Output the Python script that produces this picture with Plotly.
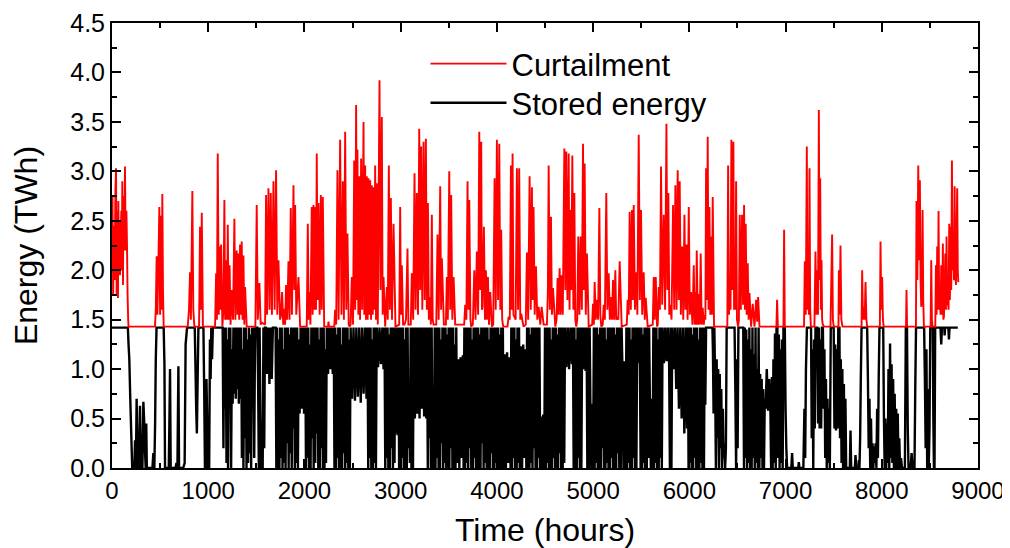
import plotly.graph_objects as go

# ---------------- data ----------------
# Curtailment (TWh) as (hour, value) pairs; its floor equals the storage capacity
curtailment = [
    (0,2.10),(5,2.75),(12,1.75),(20,2.45),(28,1.90),(35,2.80),(42,3.03),(48,1.75),(55,2.60),(62,1.72),
    (66,2.70),(72,2.10),(78,2.50),(83,1.95),(90,2.30),(97,2.60),(102,2.00),(107,2.90),(114,1.85),(120,2.75),
    (127,2.20),(135,3.05),(142,2.20),(150,2.60),(156,2.25),(162,1.75),(168,1.50),(172,1.43),
    (447,1.43),(455,1.60),(464,2.14),(472,1.55),(480,1.95),(492,2.64),(500,1.55),(510,2.55),(516,1.60),(523,2.77),(530,1.80),(537,1.43),
    (787,1.43),(800,1.60),(811,1.98),(820,1.50),(835,2.80),(845,1.60),(856,1.43),(905,1.43),(915,2.44),(924,1.60),(933,2.58),(945,1.43),
    (1071,1.43),(1082,1.97),(1090,1.50),(1099,3.18),(1110,1.55),(1123,2.24),(1128,1.60),(1134,2.26),(1147,1.43),(1158,1.60),
    (1168,2.71),(1176,1.50),(1186,2.10),(1196,1.50),(1203,2.46),(1212,1.50),(1222,2.05),(1232,1.45),(1244,1.80),(1258,1.50),
    (1272,2.52),(1282,1.50),(1296,2.20),(1305,1.55),(1314,2.17),(1322,1.50),(1331,2.26),(1340,1.55),(1348,2.29),(1357,1.50),
    (1366,2.15),(1375,1.45),(1383,1.83),(1400,1.43),
    (1490,1.43),(1504,2.66),(1515,1.50),(1532,1.87),(1545,1.45),(1556,1.47),(1591,1.45),(1601,2.76),(1612,1.55),(1626,2.83),
    (1638,1.60),(1650,2.78),(1662,1.55),(1678,2.90),(1690,1.60),(1705,3.01),(1718,1.55),(1730,2.10),(1747,1.50),(1758,1.55),
    (1768,1.78),(1779,1.45),(1789,1.61),(1799,1.45),(1809,1.85),(1820,1.50),(1834,2.09),(1845,1.50),(1858,2.63),(1870,1.55),
    (1886,2.86),(1895,1.80),(1903,2.66),(1915,1.55),(1938,1.93),(1955,1.43),
    (2024,1.43),(2035,2.47),(2044,1.50),(2052,1.78),(2062,1.45),(2076,2.64),(2085,1.55),(2094,2.66),(2102,1.60),(2111,2.64),
    (2120,1.60),(2128,3.18),(2137,1.70),(2146,2.68),(2158,1.55),(2170,2.76),(2180,1.60),(2191,2.74),(2205,1.43),(2245,1.43),
    (2250,1.48),(2255,1.43),
    (2310,1.43),(2319,1.60),(2330,1.45),(2343,3.01),(2355,1.50),(2371,3.32),(2385,1.55),(2399,2.90),(2410,1.50),(2423,3.40),
    (2435,1.60),(2447,2.37),(2460,1.45),(2468,1.43),
    (2480,1.45),(2492,1.93),(2505,1.45),(2517,3.11),(2527,1.60),(2537,3.67),(2545,1.70),(2551,3.22),(2560,1.55),(2569,2.95),
    (2578,1.50),(2589,3.13),(2600,1.60),(2614,3.50),(2622,1.55),(2631,3.06),(2640,1.50),(2648,2.95),(2657,1.50),(2666,2.93),
    (2675,1.55),(2683,2.91),(2692,1.50),(2700,2.86),(2710,1.55),(2718,2.84),(2727,1.60),(2735,3.06),(2744,1.50),(2752,2.88),
    (2762,1.45),(2780,3.92),(2790,1.80),(2804,3.55),(2813,1.55),(2822,1.93),(2839,1.43),(2856,1.83),(2866,1.50),(2877,3.06),
    (2888,1.60),(2898,2.73),(2910,1.50),(2926,2.47),(2946,1.43),
    (2985,1.45),(2995,2.64),(3003,1.55),(3012,2.05),(3025,1.45),(3040,1.45),(3055,1.50),(3071,2.22),(3080,1.45),(3089,1.45),
    (3105,1.45),(3116,1.97),(3130,1.50),(3144,2.98),(3155,1.60),(3168,2.78),(3180,1.55),(3193,3.43),(3203,1.80),(3213,3.25),
    (3225,1.60),(3238,3.30),(3250,1.70),(3262,3.33),(3272,1.60),(3283,2.68),(3293,1.50),(3304,1.73),(3314,1.45),(3324,2.56),
    (3333,1.50),(3342,1.45),
    (3370,1.45),(3383,2.36),(3395,1.50),(3411,2.85),(3420,1.60),(3428,2.12),(3449,1.45),
    (3470,1.45),(3480,1.93),(3490,1.50),(3505,3.00),(3515,1.60),(3525,2.76),(3537,1.50),(3550,1.93),(3567,1.45),
    (3660,1.45),(3671,1.65),(3683,1.50),(3695,2.90),(3705,1.60),(3713,2.71),(3725,1.50),(3733,1.43),
    (3750,1.45),(3765,2.00),(3778,1.50),(3792,2.19),(3805,1.55),(3817,3.40),(3827,1.80),(3837,3.30),(3845,1.60),(3851,1.63),
    (3865,2.44),(3876,1.50),(3886,2.00),(3896,1.50),(3907,1.93),(3918,1.45),(3931,1.78),(3948,1.43),
    (3962,1.45),(3976,2.93),(3988,1.60),(4000,3.32),(4012,1.70),(4025,3.28),(4035,1.60),(4045,2.41),(4055,1.50),(4066,1.43),
    (4110,1.43),(4122,1.53),(4134,1.50),(4146,3.06),(4155,1.60),(4163,3.18),(4172,1.55),(4181,1.53),(4195,1.50),(4208,3.03),
    (4220,1.60),(4232,3.03),(4243,1.50),(4253,1.56),(4277,1.43),
    (4300,1.45),(4312,2.18),(4325,1.50),(4340,2.95),(4352,1.60),(4364,2.84),(4372,1.70),(4381,2.64),(4393,1.55),(4406,2.04),
    (4420,1.50),(4434,1.63),(4451,1.45),(4465,1.63),(4486,1.45),
    (4520,1.45),(4530,1.80),(4538,3.06),(4550,1.60),(4562,2.54),(4572,1.55),(4583,1.82),(4607,1.43),
    (4620,1.50),(4631,1.92),(4640,1.55),(4652,2.02),(4662,1.55),(4673,1.95),(4685,1.55),(4701,3.23),(4711,1.80),(4721,3.20),
    (4733,1.70),(4746,3.18),(4755,1.60),(4763,2.61),(4773,1.80),(4784,3.16),(4795,1.60),(4805,2.78),(4815,1.50),(4825,1.43),
    (4835,1.50),(4846,2.34),(4858,1.55),(4871,2.34),(4883,1.60),(4895,3.28),(4904,1.80),(4912,3.08),(4924,1.55),(4936,2.17),
    (4954,1.43),
    (4990,1.45),(4999,1.66),(5008,1.45),(5016,1.88),(5028,1.50),(5040,1.70),(5052,1.50),(5065,2.63),(5075,1.55),(5085,1.43),
    (5100,1.45),(5110,1.65),(5122,1.50),(5137,2.78),(5148,1.60),(5162,1.97),(5174,1.50),(5186,1.73),(5196,1.50),(5207,1.90),
    (5218,1.50),(5231,2.00),(5240,1.50),(5248,1.53),(5262,1.50),(5276,2.09),(5297,1.43),
    (5350,1.45),(5359,1.70),(5370,1.55),(5380,2.59),(5392,1.60),(5404,2.61),(5413,1.70),(5422,2.66),(5435,1.60),(5449,1.98),
    (5460,1.55),(5474,3.37),(5486,1.70),(5498,2.61),(5510,1.55),(5526,1.98),(5537,1.50),(5547,1.72),(5567,1.43),
    (5620,1.45),(5630,1.93),(5640,1.50),(5651,1.93),(5664,1.43),
    (5672,1.45),(5682,1.83),(5694,1.60),(5706,3.05),(5718,1.65),(5734,2.56),(5748,1.60),(5762,3.48),(5772,1.80),(5782,2.78),
    (5792,1.55),(5803,1.65),(5815,1.50),(5831,2.66),(5843,1.60),(5855,2.86),(5867,1.60),(5879,3.01),(5890,1.70),(5900,2.90),
    (5912,1.55),(5925,2.24),(5937,1.50),(5949,2.56),(5960,1.60),(5970,2.26),(5982,1.50),(5994,2.64),
    (6005,1.55),(6018,1.78),(6032,1.45),(6046,2.05),(6055,1.45),(6063,1.78),(6070,1.45),(6077,2.20),(6088,1.45),(6098,1.76),
    (6108,1.45),(6118,2.17),(6128,1.45),(6139,1.62),(6150,1.45),(6160,1.55),(6167,1.50),(6174,3.03),(6182,1.70),(6191,3.35),
    (6200,1.60),(6209,2.64),(6218,1.55),(6226,2.34),(6235,1.55),(6243,2.74),(6257,1.43),
    (6395,1.43),(6403,3.06),(6412,1.55),(6420,1.80),(6428,1.60),(6437,3.32),(6448,1.80),(6458,3.30),(6465,1.60),(6472,1.78),
    (6479,1.60),(6486,2.90),(6495,1.50),(6507,1.43),
    (6515,1.50),(6524,2.56),(6535,1.60),(6548,2.56),(6558,1.65),(6569,2.66),(6578,1.60),(6586,2.47),(6596,1.55),(6607,2.07),
    (6616,1.50),(6625,1.77),(6642,1.43),(6659,1.66),(6677,1.43),(6694,1.70),(6705,1.48),(6715,1.73),(6729,1.43),
    (6905,1.43),(6912,1.70),(6920,1.43),
    (6978,1.43),(6985,2.41),(6992,1.43),
    (7192,1.43),(7200,2.09),(7210,1.55),(7221,3.25),(7228,1.60),(7235,2.07),(7242,1.55),(7249,3.03),(7256,1.60),(7263,1.43),
    (7300,1.43),(7311,2.19),(7320,1.55),(7329,2.00),(7337,1.55),(7346,3.62),(7353,1.90),(7360,2.93),(7367,1.60),(7374,2.10),
    (7380,1.50),(7387,1.45),(7400,1.43),
    (7467,1.43),(7474,1.82),(7484,2.36),(7492,1.50),(7501,1.43),
    (7550,1.43),(7554,2.00),(7562,1.55),(7571,2.25),(7580,1.50),(7592,1.43),
    (7790,1.43),(7796,2.00),(7805,1.50),(7814,1.63),(7822,1.50),(7831,1.88),(7840,1.50),(7848,1.43),
    (7980,1.43),(7987,2.29),(7995,1.60),(8004,1.93),(8012,1.50),(8020,1.43),
    (8252,1.43),(8257,1.80),(8263,1.43),
    (8355,1.43),(8361,2.70),(8370,1.90),(8379,3.06),(8387,2.10),(8396,2.91),(8403,1.90),(8410,1.63),(8417,1.70),(8424,2.61),
    (8431,1.70),(8438,1.43),
    (8508,1.43),(8514,2.10),(8521,1.50),(8528,1.43),
    (8556,1.43),(8563,2.05),(8570,1.55),(8576,2.24),(8583,1.60),(8590,2.60),(8597,1.60),(8604,1.70),(8611,1.55),(8618,2.05),
    (8626,1.55),(8635,2.27),(8640,1.50),(8646,1.53),(8653,1.80),(8660,2.17),(8667,1.60),(8673,2.34),(8680,1.65),(8687,1.70),
    (8694,1.60),(8701,2.47),(8708,1.70),(8715,2.44),(8722,1.80),(8729,3.11),(8736,2.00),(8743,2.29),(8750,1.90),(8757,2.85),
    (8764,2.00),(8771,1.85),(8778,2.40),(8784,2.83),(8790,2.00),(8795,1.88),
]

# Stored energy (TWh) as (hour, value) pairs
stored_energy = [
    (0,1.42),(165,1.42),(172,1.25),(180,1.10),(190,0.70),(200,0.35),(210,0.00),(232,0.00),(240,0.28),(248,0.00),
    (256,0.70),(263,0.25),(270,0.00),(280,0.00),(291,0.63),(298,0.20),(305,0.00),(316,0.00),(326,0.67),(334,0.48),
    (342,0.20),(350,0.00),(356,0.45),(362,0.00),(420,0.00),(430,0.15),(440,0.00),(448,0.45),(455,1.10),(463,1.42),
    (537,1.42),(545,1.05),(551,0.00),(590,0.00),(597,0.50),(603,1.00),(610,0.00),(660,0.00),(670,0.05),(680,0.00),
    (690,1.03),(697,0.00),(740,0.00),(755,0.05),(765,1.25),(780,1.42),
    (783,1.42),(860,1.42),(868,1.00),(875,0.60),(882,0.35),(890,0.90),(898,1.42),(950,1.42),(958,0.80),(966,0.00),
    (975,0.00),(982,0.90),(990,0.40),(998,0.00),(1010,0.00),(1018,1.30),(1025,0.90),(1032,1.42),(1040,1.10),(1048,1.42),
    (1150,1.42),(1158,0.20),(1166,1.42),(1174,0.60),(1182,1.42),(1190,0.05),(1198,1.30),(1206,0.00),(1214,1.42),(1222,0.70),
    (1230,1.42),(1238,0.00),(1246,1.20),(1254,0.65),(1262,1.42),(1270,0.75),(1278,1.42),(1286,0.70),(1294,1.42),(1302,0.80),
    (1310,1.42),(1318,0.65),(1326,1.42),(1334,0.70),(1342,1.42),(1350,0.10),(1358,1.20),(1366,0.00),(1374,1.42),(1382,0.30),
    (1390,1.42),(1398,0.00),(1406,1.30),(1414,0.05),(1422,1.42),(1430,0.15),(1438,1.35),(1446,0.00),(1454,1.42),(1462,0.60),
    (1470,1.42),(1478,0.10),(1486,1.30),(1494,1.42),(1510,1.42),
    (1518,0.90),(1526,0.00),(1534,1.42),(1542,0.55),(1550,0.00),(1558,0.10),(1566,0.00),(1574,1.42),(1582,0.20),(1590,1.42),
    (1600,1.42),(1612,0.95),(1624,1.42),(1636,0.85),(1648,1.42),(1660,0.90),(1672,1.42),(1700,1.42),
    (1708,0.00),(1716,1.42),(1724,0.00),(1732,1.30),(1740,0.00),(1748,1.42),(1756,0.10),(1764,1.42),(1772,0.00),(1780,1.20),
    (1788,0.05),(1796,1.42),(1804,0.00),(1812,1.42),(1820,0.25),(1828,1.42),(1836,0.00),(1844,1.35),(1852,0.15),(1860,1.42),
    (1868,0.00),(1876,1.42),(1884,0.40),(1892,1.42),(1900,0.00),
    (1908,1.42),(1916,0.05),(1924,1.42),(1932,0.00),(1940,1.30),(1950,0.55),(1960,1.42),(1972,0.60),(1984,1.42),(1996,0.55),
    (2008,1.42),
    (2016,0.00),(2024,1.42),(2032,0.10),(2040,1.42),(2048,0.00),(2056,1.25),(2064,0.00),(2072,1.42),(2080,0.30),(2088,1.42),
    (2096,0.00),(2104,1.42),(2112,0.05),(2120,1.42),(2128,0.35),(2136,1.42),(2144,0.00),(2152,1.30),(2160,0.00),(2168,1.42),
    (2176,0.20),(2184,1.42),(2192,0.00),(2200,1.42),(2208,0.00),(2216,1.20),(2224,0.05),(2232,1.42),
    (2245,0.95),(2258,1.42),(2270,1.00),(2282,1.42),(2294,0.95),(2304,1.42),
    (2312,0.00),(2320,1.42),(2328,0.00),(2336,1.35),(2344,0.10),(2352,1.42),(2360,0.00),(2368,1.42),(2376,0.00),(2384,1.25),
    (2392,0.00),(2400,1.42),(2408,0.15),(2416,1.42),(2424,0.00),(2432,1.42),(2440,0.05),(2448,1.42),(2456,0.00),(2464,1.30),
    (2472,0.00),(2480,1.42),
    (2495,0.70),(2510,1.42),(2525,0.68),(2540,1.42),(2555,0.72),(2570,1.42),(2585,0.66),(2600,1.42),(2615,0.75),(2630,1.42),
    (2645,0.70),(2655,1.42),
    (2663,0.00),(2671,1.42),(2679,0.10),(2687,1.42),(2695,0.00),(2703,1.30),(2711,0.00),(2719,1.42),(2727,0.05),(2735,1.42),
    (2743,0.00),(2751,1.42),
    (2765,1.02),(2780,1.42),(2795,1.05),(2810,1.42),(2822,1.00),(2832,1.42),
    (2840,0.00),(2848,1.42),(2856,0.10),(2864,1.42),(2872,0.00),(2880,1.35),(2888,0.00),(2896,1.42),(2904,0.20),(2912,1.42),
    (2920,0.00),(2928,1.42),(2936,0.05),(2944,1.42),(2952,0.35),(2960,1.42),(2968,0.33),(2976,1.42),(2984,0.00),(2992,1.42),
    (3000,0.00),(3008,1.42),(3016,0.10),(3024,1.42),(3032,0.00),(3040,1.30),(3048,0.00),(3056,1.42),(3064,0.00),(3072,1.42),
    (3080,0.20),(3088,0.75),(3096,0.05),(3104,1.42),(3112,0.00),(3120,1.42),(3128,0.00),(3136,1.42),
    (3148,0.50),(3160,1.42),(3172,0.55),(3184,1.42),(3196,0.50),(3208,1.42),(3220,0.60),(3232,1.42),(3244,0.52),(3256,1.42),
    (3266,0.50),
    (3274,1.42),(3282,0.00),(3290,1.42),(3298,0.30),(3306,1.42),(3314,0.00),(3322,1.42),(3330,0.00),(3338,0.75),(3346,0.00),
    (3354,1.42),(3362,0.00),(3370,1.42),(3378,0.10),(3386,1.42),(3394,0.00),(3402,1.42),(3410,0.00),(3418,1.30),(3426,0.25),
    (3434,1.42),(3442,0.00),(3450,1.42),(3458,0.05),(3466,1.42),(3474,0.00),(3482,1.35),(3490,0.00),(3498,1.42),(3506,0.00),
    (3514,1.42),(3522,0.20),(3530,1.42),(3538,0.00),(3546,1.42),(3554,0.00),(3562,1.25),(3570,0.00),(3578,1.42),(3586,0.05),
    (3598,1.10),(3610,0.00),(3622,1.12),(3634,0.10),(3646,1.14),(3654,0.00),
    (3662,1.42),(3670,0.00),(3678,1.42),(3686,0.05),(3694,1.42),(3702,0.00),(3710,1.42),(3718,0.20),(3726,1.42),(3734,0.00),
    (3742,1.30),(3750,0.00),(3758,1.42),(3766,0.10),(3774,1.42),(3782,0.00),(3790,1.42),(3798,0.00),(3806,1.42),(3814,0.00),
    (3822,1.35),(3830,0.00),(3838,1.42),(3846,0.25),(3854,1.42),(3862,0.00),(3870,1.42),(3878,0.05),(3886,1.42),(3894,0.00),
    (3902,1.42),(3910,0.00),(3918,1.30),(3926,0.00),(3934,1.42),(3942,0.15),(3950,1.42),(3958,0.00),(3966,1.42),(3974,0.00),
    (3982,1.42),(3990,0.05),(3998,1.42),(4006,0.00),(4014,1.42),(4022,0.00),(4030,1.35),(4038,0.00),(4046,1.42),(4054,0.00),
    (4062,1.42),(4070,0.00),
    (4082,1.15),(4094,0.00),(4106,1.17),(4118,0.05),(4130,1.12),(4142,0.00),
    (4150,1.42),(4158,0.00),(4166,1.42),(4174,0.10),(4182,1.42),(4190,0.00),(4198,1.30),(4206,0.00),(4214,1.42),(4222,0.05),
    (4230,1.42),(4238,0.00),
    (4250,1.23),(4262,0.00),(4274,1.25),(4286,0.10),(4298,1.20),(4306,0.00),
    (4314,1.42),(4322,0.00),(4330,1.42),(4338,0.00),(4346,1.35),(4354,0.05),(4362,1.42),(4370,0.00),(4378,1.42),(4386,0.20),
    (4394,1.42),(4402,0.00),(4410,1.42),(4418,0.00),(4426,1.42),(4434,0.10),(4442,1.42),(4450,0.00),
    (4462,0.52),(4472,0.00),(4482,0.54),(4492,0.00),
    (4500,1.42),(4508,0.00),(4516,1.42),(4524,0.05),(4532,1.42),(4540,0.00),(4548,1.42),(4556,0.00),(4564,1.30),(4572,0.00),
    (4580,1.42),(4588,0.10),(4596,1.42),(4604,0.00),(4612,1.42),(4620,0.00),(4628,1.35),(4636,0.00),(4644,1.42),(4652,0.15),
    (4660,1.42),(4668,0.00),(4676,1.42),(4684,0.00),(4692,1.42),(4700,0.05),(4708,1.42),
    (4722,1.02),(4736,1.42),(4750,1.00),(4764,1.42),(4780,1.05),(4790,1.42),
    (4798,0.00),(4806,1.42),(4814,0.00),(4822,1.30),(4830,0.00),(4838,1.42),(4846,0.10),(4854,1.42),(4862,0.00),(4870,1.42),
    (4878,0.00),(4886,1.42),
    (4898,1.00),(4910,1.42),(4922,0.98),(4932,1.42),
    (4940,0.00),(4948,1.42),(4956,0.00),(4964,1.42),
    (4972,0.62),(4982,0.00),(4992,0.65),(5000,0.00),
    (5008,1.42),(5016,0.00),(5024,1.42),(5032,0.05),(5040,1.42),(5048,0.00),(5056,1.35),(5064,0.00),(5072,1.42),(5080,0.00),
    (5088,1.42),(5096,0.20),(5104,1.42),(5112,0.00),(5120,1.42),(5128,0.00),(5136,1.30),(5144,0.05),(5152,1.42),(5160,0.00),
    (5168,1.42),(5176,0.00),(5184,1.42),(5192,0.10),(5200,1.42),(5208,0.00),(5216,1.42),(5224,0.00),(5232,1.35),(5240,0.00),
    (5248,1.42),(5256,0.15),(5264,1.42),(5272,0.00),(5280,1.42),(5288,0.00),(5296,1.42),
    (5304,1.05),(5316,0.00),(5328,1.08),(5338,0.00),
    (5346,1.42),(5354,0.00),(5362,1.42),(5370,0.05),(5378,1.42),(5386,0.00),(5394,1.30),(5402,0.00),(5410,1.42),(5418,0.10),
    (5426,1.42),(5434,0.00),(5442,1.42),(5450,0.00),(5458,1.42),
    (5466,1.06),(5476,1.42),(5486,1.08),
    (5494,0.00),(5502,1.42),(5510,0.00),(5518,1.35),(5526,0.05),(5534,1.42),(5542,0.00),(5550,1.42),(5558,0.00),(5566,1.42),
    (5574,0.10),(5582,1.42),
    (5590,0.68),(5600,0.00),(5610,0.70),(5618,0.00),
    (5626,1.42),(5634,0.00),(5642,1.42),(5650,0.05),(5658,1.42),(5666,0.00),(5674,1.30),(5682,0.00),(5690,1.42),(5698,0.10),
    (5706,1.42),(5714,0.00),
    (5722,1.42),(5736,1.06),(5750,1.42),(5764,1.08),(5778,1.42),(5790,1.05),
    (5798,0.00),(5806,1.42),(5814,0.00),(5822,1.42),
    (5836,1.00),(5850,1.42),(5864,0.80),(5878,1.42),(5892,0.60),(5906,1.42),(5920,0.50),(5934,1.42),(5948,0.35),(5962,1.42),
    (5976,0.40),
    (5984,1.42),(5992,0.00),(6000,1.42),(6008,0.05),(6016,1.42),(6024,0.00),(6032,1.35),(6040,0.00),(6048,1.42),(6056,0.10),
    (6064,1.42),(6072,0.00),(6080,1.42),(6088,0.00),(6096,1.30),(6104,0.00),(6112,1.42),(6120,0.05),(6128,1.42),(6136,0.00),
    (6144,1.42),(6152,0.00),(6160,1.42),
    (6166,0.64),(6174,1.42),(6240,1.42),
    (6245,1.20),(6252,0.55),(6260,1.42),(6268,0.90),(6276,0.00),(6284,1.10),(6292,0.30),(6300,1.00),(6308,0.00),(6316,0.95),
    (6324,0.20),(6332,0.80),(6340,0.00),(6348,0.60),(6356,0.10),(6364,0.25),(6372,0.00),(6380,0.20),(6388,1.42),
    (6470,1.42),
    (6478,0.80),(6486,0.00),(6494,1.10),(6502,0.20),(6510,1.42),
    (6560,1.42),
    (6568,0.00),(6576,1.42),(6584,0.10),(6592,1.40),(6600,0.00),(6608,1.30),(6616,0.05),(6624,1.42),(6632,0.00),(6640,1.20),
    (6648,0.00),(6656,1.42),(6664,0.10),(6672,1.15),(6680,0.00),(6688,1.42),(6696,0.05),(6704,1.00),(6712,0.00),(6720,1.42),
    (6728,0.00),(6736,0.95),(6744,0.10),(6752,0.90),(6760,0.00),(6768,0.80),(6776,0.00),(6784,0.70),(6792,0.60),
    (6805,1.00),(6818,0.58),(6830,0.90),(6843,0.55),
    (6850,0.00),(6858,0.92),(6866,0.00),(6874,1.10),(6882,0.05),(6890,1.36),(6898,0.00),(6906,1.42),(6915,1.42),(6922,0.10),
    (6930,1.35),(6938,0.00),(6946,1.20),(6954,0.05),(6962,1.30),(6970,0.00),(6978,1.42),(6992,1.42),(7000,0.60),(7008,0.20),
    (7016,0.00),
    (7060,0.00),(7068,0.15),(7075,0.00),(7132,0.00),(7138,0.06),(7144,0.00),(7185,0.00),
    (7196,0.60),(7204,0.10),(7212,1.00),(7222,1.42),(7265,1.42),
    (7272,0.30),(7280,1.20),(7288,0.00),(7296,1.30),(7304,0.40),(7311,1.42),(7330,1.42),(7338,0.45),(7346,1.42),(7354,0.40),
    (7362,1.30),(7370,0.40),(7378,1.42),(7388,1.42),(7396,0.60),(7404,1.20),(7412,0.10),(7420,0.90),(7428,0.00),(7436,0.70),
    (7444,0.05),(7452,0.60),(7460,0.00),
    (7470,1.42),(7500,1.42),
    (7508,0.40),(7516,1.25),(7524,0.38),(7532,1.20),(7540,0.40),(7548,1.42),(7560,1.42),(7566,0.30),(7574,1.10),(7582,0.05),
    (7590,1.00),(7598,0.00),(7606,0.85),(7614,0.00),(7622,0.70),(7630,0.00),(7640,0.00),
    (7668,0.00),(7675,0.38),(7682,0.00),(7720,0.00),(7727,0.13),(7734,0.00),(7756,0.00),(7762,0.08),(7768,0.00),(7775,0.30),
    (7782,0.90),(7790,1.42),(7848,1.42),
    (7856,0.90),(7864,0.20),(7872,0.70),(7880,0.00),(7888,0.50),(7896,0.00),(7904,0.25),(7912,0.00),(7920,0.22),(7928,0.05),
    (7936,0.25),(7944,0.00),(7952,0.60),(7960,0.10),(7968,0.90),(7976,1.42),(8015,1.42),
    (8022,0.55),(8030,0.00),(8038,0.50),(8046,0.00),(8054,0.45),(8062,0.05),(8070,1.00),(8078,0.00),(8086,1.26),(8094,0.10),
    (8102,1.05),(8110,0.05),(8118,0.90),(8126,0.00),(8134,0.75),(8142,0.00),(8150,0.60),(8158,0.00),(8166,0.55),(8174,0.00),
    (8182,0.30),(8190,0.00),(8200,0.10),(8210,0.00),(8230,0.00),
    (8240,0.00),(8250,1.42),(8262,1.42),(8270,0.40),(8278,0.00),(8300,0.00),(8310,0.15),(8320,0.00),(8340,0.00),(8348,0.80),
    (8356,1.42),(8440,1.42),
    (8448,0.90),(8456,0.20),(8464,1.20),(8472,0.00),(8480,0.80),(8488,0.00),(8496,0.40),(8504,1.42),(8530,1.42),(8536,0.50),
    (8542,0.00),(8548,0.00),(8555,1.42),
    (8610,1.42),(8618,1.25),(8625,1.42),(8650,1.42),(8653,1.34),(8658,1.42),(8692,1.42),(8698,1.30),(8704,1.42),(8790,1.42),
]

series_names = ["Curtailment", "Stored energy"]
series_colors = ["#ff0000", "#000000"]
x_ticks = [0, 1000, 2000, 3000, 4000, 5000, 6000, 7000, 8000, 9000]
y_ticks = [0.0, 0.5, 1.0, 1.5, 2.0, 2.5, 3.0, 3.5, 4.0, 4.5]

curt_h = [p[0] for p in curtailment]
curt_v = [p[1] for p in curtailment]
stor_h = [p[0] for p in stored_energy]
stor_v = [p[1] for p in stored_energy]

FONT = "Liberation Sans, Arial, sans-serif"

fig = go.Figure()
fig.add_trace(go.Scatter(x=stor_h, y=stor_v, mode="lines", name=series_names[1], legend="legend2",
                         line=dict(color=series_colors[1], width=2.4, simplify=False)))
fig.add_trace(go.Scatter(x=curt_h, y=curt_v, mode="lines", name=series_names[0], legend="legend",
                         line=dict(color=series_colors[0], width=1.9, simplify=False)))

axis_common = dict(
    showline=True, linewidth=2, linecolor="black", mirror="allticks",
    ticks="inside", ticklen=9, tickwidth=2, tickcolor="black",
    showgrid=False, zeroline=False, automargin=False,
)

fig.update_xaxes(
    range=[0, 9000], tickvals=x_ticks, ticktext=[str(v) for v in x_ticks],
    tickfont=dict(family=FONT, size=24, color="black"),
    minor=dict(ticks="inside", ticklen=5, tickwidth=2, tickcolor="black", dtick=500, tick0=0, showgrid=False),
    title=dict(text="Time (hours)", font=dict(family=FONT, size=32, color="black"), standoff=18),
    **axis_common,
)
fig.update_yaxes(
    range=[0, 4.5], tickvals=y_ticks, ticktext=[f"{v:.1f}" for v in y_ticks],
    tickfont=dict(family=FONT, size=25, color="black"),
    minor=dict(ticks="inside", ticklen=5, tickwidth=2, tickcolor="black", dtick=0.25, tick0=0, showgrid=False),
    title=dict(text="Energy (TWh)", font=dict(family=FONT, size=32, color="black"), standoff=23),
    **axis_common,
)

legend_common = dict(
    x=0.362, xanchor="left", yanchor="middle", itemwidth=76,
    font=dict(family=FONT, size=31, color="black"),
    bgcolor="rgba(0,0,0,0)", borderwidth=0,
)

# The page body has an 8 px margin, so the figure is drawn 8 px in from the top-left
fig.update_layout(
    width=1002, height=540,
    margin=dict(l=104, r=32, t=15, b=80),
    paper_bgcolor="white", plot_bgcolor="white",
    showlegend=True,
    legend=dict(y=0.908, **legend_common),
    legend2=dict(y=0.820, **legend_common),
)

fig.write_html("out.html")
